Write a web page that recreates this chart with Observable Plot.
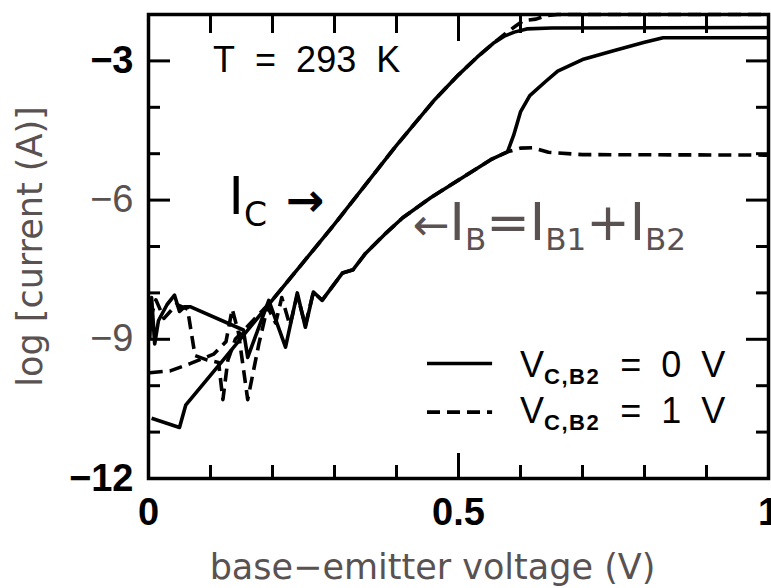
<!DOCTYPE html>
<html><head><meta charset="utf-8">
<script src="https://cdn.jsdelivr.net/npm/d3@7"></script>
<script src="https://cdn.jsdelivr.net/npm/@observablehq/plot@0.6"></script>
<style>body{margin:0;background:#fff;} svg{display:block}</style>
</head><body><div id="chart"></div>
<script>
// ---- data: [base-emitter voltage (V), log10 current (A)] ----
const icSolid = [[0.005,-10.7],[0.05,-10.9],[0.06,-10.42],[0.124,-9.39],[0.2,-8.15],[0.3,-6.52],[0.4,-4.82],[0.46,-3.86],[0.5,-3.3],[0.53,-2.92],[0.556,-2.62],[0.575,-2.46],[0.59,-2.38],[0.61,-2.31],[0.65,-2.29],[1.0,-2.28]];
const icDashed = [[0.002,-8.6],[0.012,-8.15],[0.025,-8.55],[0.045,-8.25],[0.063,-8.35],[0.075,-9.35],[0.095,-9.45],[0.113,-9.5],[0.12,-10.3],[0.128,-9.45],[0.14,-9.0],[0.2,-8.15],[0.3,-6.52],[0.4,-4.82],[0.46,-3.86],[0.5,-3.3],[0.53,-2.92],[0.556,-2.62],[0.575,-2.42],[0.59,-2.27],[0.605,-2.13],[0.625,-2.1],[0.64,-2.03],[0.66,-2.0],[1.0,-2.0]];
const ibSolid = [[0.002,-9.0],[0.005,-8.1],[0.01,-9.1],[0.016,-8.6],[0.03,-8.25],[0.042,-8.05],[0.05,-8.4],[0.058,-8.3],[0.068,-8.3],[0.153,-8.8],[0.16,-9.39],[0.194,-8.16],[0.221,-9.17],[0.24,-8.0],[0.253,-8.74],[0.266,-7.98],[0.28,-8.16],[0.313,-7.57],[0.33,-7.5],[0.35,-7.15],[0.38,-6.75],[0.41,-6.38],[0.455,-5.95],[0.508,-5.5],[0.552,-5.13],[0.579,-4.96],[0.589,-4.6],[0.6,-4.1],[0.615,-3.75],[0.64,-3.45],[0.66,-3.22],[0.7,-2.97],[0.75,-2.78],[0.8,-2.6],[0.83,-2.5],[1.0,-2.5]];
const ibDashed = [[0.002,-9.72],[0.035,-9.68],[0.068,-9.52],[0.105,-9.32],[0.125,-9.05],[0.135,-8.35],[0.145,-8.85],[0.16,-10.3],[0.178,-9.1],[0.192,-8.3],[0.205,-8.65],[0.215,-8.1],[0.228,-8.7],[0.24,-8.05],[0.253,-8.7],[0.266,-7.98],[0.28,-8.16],[0.313,-7.57],[0.33,-7.5],[0.35,-7.15],[0.38,-6.75],[0.41,-6.38],[0.455,-5.95],[0.508,-5.5],[0.552,-5.13],[0.579,-4.96],[0.6,-4.88],[0.62,-4.87],[0.645,-4.97],[0.7,-5.02],[1.0,-5.03]];

// ---- ticks ----
const xMinorTicks = [0.1,0.2,0.3,0.4,0.6,0.7,0.8,0.9];
const xMajorTicks = [0.5];
const yMinorTicks = [-11,-10,-8,-7,-5,-4];
const yMajorTicks = [-9,-6,-3];
const xTickLabels = [{v:0,t:"0"},{v:0.5,t:"0.5"},{v:1,t:"1"}];
const yTickLabelsDark = [{v:-3,t:"−3"},{v:-12,t:"−12"}];
const yTickLabelsGray = [{v:-6,t:"−6"},{v:-9,t:"−9"}];
const xLabel = "base−emitter voltage (V)";
const yLabel = "log [current (A)]";
const legendLabels = ["0 V", "1 V"];

// ---- layout ----
const W = 771, H = 588;
const M = {top:14, left:148, right:3, bottom:110};
const PW = W - M.left - M.right, PH = H - M.top - M.bottom;
const GRAY = "#5a5151";
const DASH = "13,7";
const SW = 3.6;
const legendPos = {x1:0.45, x2:0.555, textX:0.6, rows:[-9.52,-10.57], baselines:[-9.82,-10.81]};

const lineOpts = (dash) => ({x: d => d[0], y: d => d[1], stroke: "#000", strokeWidth: SW,
  strokeLinejoin: "round", strokeLinecap: "butt", strokeDasharray: dash});

const plot = Plot.plot({
  width: W, height: H,
  marginTop: M.top, marginLeft: M.left, marginRight: M.right, marginBottom: M.bottom,
  x: {domain: [0, 1], axis: null},
  y: {domain: [-12, -2], axis: null},
  style: {background: "transparent"},
  marks: [
    Plot.line(icSolid, lineOpts(null)),
    Plot.line(ibSolid, lineOpts(null)),
    Plot.line(icDashed, lineOpts(DASH)),
    Plot.line(ibDashed, lineOpts(DASH)),
    // ticks (inward)
    Plot.tickX(xMinorTicks, {x: d => d, insetTop: PH - 13, strokeWidth: 3}),
    Plot.tickX(xMajorTicks, {x: d => d, insetTop: PH - 25, strokeWidth: 3}),
    Plot.tickX(xMinorTicks, {x: d => d, insetBottom: PH - 19, strokeWidth: 3}),
    Plot.tickX(xMajorTicks, {x: d => d, insetBottom: PH - 27, strokeWidth: 3}),
    Plot.tickY(yMinorTicks, {y: d => d, insetRight: PW - 12, strokeWidth: 3}),
    Plot.tickY(yMajorTicks, {y: d => d, insetRight: PW - 22, strokeWidth: 3}),
    Plot.tickY(yMinorTicks, {y: d => d, insetLeft: PW - 12, strokeWidth: 3}),
    Plot.tickY(yMajorTicks, {y: d => d, insetLeft: PW - 22, strokeWidth: 3}),
    Plot.frame({stroke: "#000", strokeWidth: 3.5}),
    // tick labels
    Plot.text(xTickLabels, {x: "v", frameAnchor: "bottom", lineAnchor: "middle", text: "t", dy: 34,
      fontSize: 38, fontWeight: "bold", fontFamily: "Liberation Sans", fill: "#000"}),
    Plot.text(yTickLabelsDark, {y: "v", frameAnchor: "left", text: "t", dx: -15, textAnchor: "end",
      fontSize: 38, fontWeight: "bold", fontFamily: "Liberation Sans", fill: "#000"}),
    Plot.text(yTickLabelsGray, {y: "v", frameAnchor: "left", text: "t", dx: -15, textAnchor: "end",
      fontSize: 38, fontFamily: "Liberation Sans", fill: GRAY}),
    // axis labels
    Plot.text([xLabel], {frameAnchor: "bottom", lineAnchor: "middle", text: d => d, dx: -26, dy: 89,
      fontSize: 35, fontFamily: "DejaVu Sans", fill: GRAY}),
    Plot.text([yLabel], {frameAnchor: "left", text: d => d, dx: -118, rotate: -90, textAnchor: "middle",
      fontSize: 35, fontFamily: "DejaVu Sans", fill: GRAY}),
    // legend samples
    Plot.ruleY([legendPos.rows[0]], {y: d => d, x1: legendPos.x1, x2: legendPos.x2,
      stroke: "#000", strokeWidth: SW}),
    Plot.ruleY([legendPos.rows[1]], {y: d => d, x1: legendPos.x1, x2: legendPos.x2,
      stroke: "#000", strokeWidth: SW, strokeDasharray: DASH})
  ]
});
document.getElementById("chart").appendChild(plot);

const sx = plot.scale("x"), sy = plot.scale("y");
const svg = d3.select(plot);

function rich(xv, yv, parts, opts = {}) {
  const t = svg.append("text")
    .attr("x", sx.apply(xv)).attr("y", sy.apply(yv))
    .attr("text-anchor", "start")
    .attr("fill", opts.fill || "#000")
    .attr("font-family", opts.family || "DejaVu Sans")
    .attr("xml:space", "preserve");
  for (const p of parts) {
    const s = t.append("tspan").text(p.t).attr("font-size", p.size);
    if (p.dy) s.attr("dy", p.dy);
    if (p.dx) s.attr("dx", p.dx);
    if (p.weight) s.attr("font-weight", p.weight);
    if (p.ls) s.attr("letter-spacing", p.ls);
  }
  return t;
}

// T = 293 K
rich(0.105, -3.25, [{t: "T\u00a0\u00a0=\u00a0\u00a0293\u00a0\u00a0K", size: 36}], {family: "Liberation Sans"});
// I_C ->
rich(0.13, -6.32, [
  {t: "I", size: 52}, {t: "C", size: 33, dy: 12},
  {t: "\u00a0→", size: 46, dy: -10, dx: 3, weight: "bold"}
]);
// <- I_B = I_B1 + I_B2
rich(0.427, -6.86, [
  {t: "←", size: 44}, {t: "I", size: 52}, {t: "B", size: 31, dy: 10},
  {t: "=", size: 52, dy: -10}, {t: "I", size: 52}, {t: "B1", size: 31, dy: 10},
  {t: "+", size: 52, dy: -10}, {t: "I", size: 52}, {t: "B2", size: 31, dy: 10}
], {fill: GRAY});
// legend labels
legendLabels.forEach((lab, i) => {
  rich(legendPos.textX, legendPos.baselines[i], [
    {t: "V", size: 36}, {t: "C,B2", size: 22, weight: "bold", dy: 7, ls: 1.5},
    {t: "\u00a0\u00a0=\u00a0\u00a0" + lab.replace(" ", "\u00a0\u00a0"), size: 36, dy: -7}
  ], {family: "Liberation Sans"});
});
</script>
</body></html>
